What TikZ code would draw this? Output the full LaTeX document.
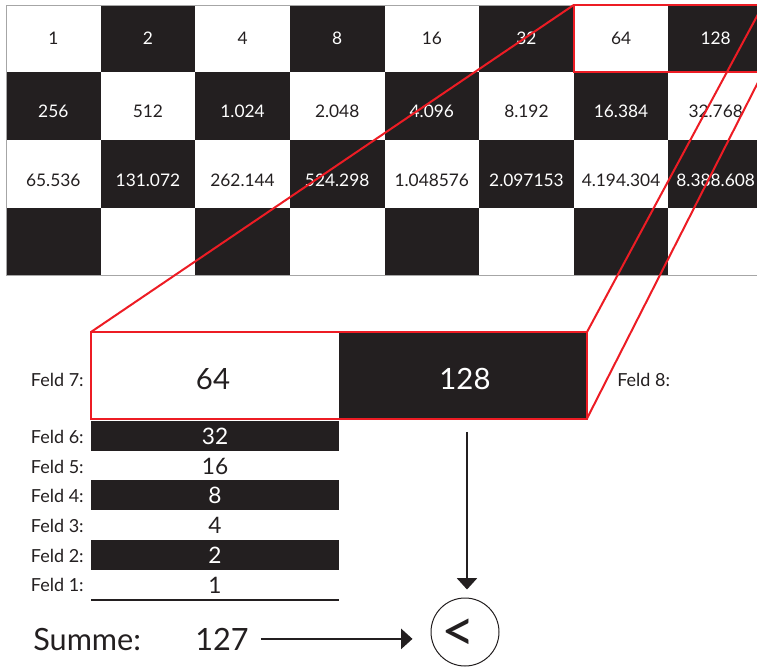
\documentclass[tikz,border=0pt]{standalone}
\usepackage{fontspec}
\setmainfont{Lato}
\usetikzlibrary{arrows.meta}
\definecolor{ink}{HTML}{231F20}
\definecolor{redline}{HTML}{ED1C24}
\newcommand\boardrow[3]{%
  \foreach \n [count=\c from 0] in {#3} {
    \pgfmathsetmacro\xl{6+\c*94.625}
    \pgfmathtruncatemacro\odd{mod(#1+\c,2)}
    \ifnum\odd=1 \def\cf{ink}\def\tf{white}\else\def\cf{white}\def\tf{ink}\fi
    \node[cellbox,fill=\cf] (c-#1-\c) at (\xl,{5+#1*67.5}) {};
    \node[numtext,text=\tf] (t-#1-\c) at (\xl+47.3,#2) {\n};
  }}
\begin{document}
\begin{tikzpicture}[x=0.75pt,y=-0.75pt,
  cellbox/.style={rectangle,inner sep=0pt,outer sep=0pt,minimum width=70.97pt,minimum height=50.625pt,anchor=north west},
  numtext/.style={inner sep=0pt,anchor=base,font=\fontsize{13}{15}\selectfont},
  bigbox/.style={rectangle,inner sep=0pt,outer sep=0pt,minimum width=186pt,minimum height=64.875pt,anchor=north west},
  bignum/.style={inner sep=0pt,anchor=base,font=\fontsize{22}{26}\selectfont},
  barbox/.style={rectangle,inner sep=0pt,outer sep=0pt,minimum width=186pt,minimum height=22.275pt,anchor=north west},
  barnum/.style={inner sep=0pt,anchor=base,font=\fontsize{17}{20}\selectfont},
  lbl/.style={inner sep=0pt,text=ink,font=\fontsize{13.5}{15}\selectfont},
  sumtext/.style={inner sep=0pt,text=ink,font=\fontsize{23}{27}\selectfont},
  redthick/.style={draw=redline,line width=1.5pt,line join=miter},
  arr/.style={draw=ink,line width=1.5pt,-{Triangle[width=15pt,length=8.5pt]}}
]
\useasboundingbox (0,0) rectangle (757,667);
\begin{scope}
\clip (0,0) rectangle (757,667);
% chessboard
\boardrow{0}{45}{1,2,4,8,16,32,64,128}
\boardrow{1}{117.3}{256,512,1.024,2.048,4.096,8.192,16.384,32.768}
\boardrow{2}{186.7}{65.536,131.072,262.144,524.298,1.048576,2.097153,4.194.304,8.388.608}
\foreach \c in {0,...,7} {
  \pgfmathsetmacro\xl{6+\c*94.625}
  \pgfmathtruncatemacro\odd{mod(3+\c,2)}
  \ifnum\odd=1 \def\cf{ink}\else\def\cf{white}\fi
  \node[cellbox,fill=\cf] (c-3-\c) at (\xl,207.5) {};
}
\draw[gray!70,line width=0.5pt] (c-0-0.north west) rectangle (c-3-7.south east);
% enlarged fields 7 and 8
\node[bigbox,fill=white] (b64) at (91,332) {};
\node[bigbox,fill=ink] (b128) at (339,332) {};
\node[bignum,text=ink] (n64) at (213,389) {64};
\node[bignum,text=white] (n128) at (465,389) {128};
\draw[redthick] (c-0-6.north west) rectangle (c-0-7.south east);
\draw[redthick] (b64.north west) rectangle (b128.south east);
\draw[redthick] (c-0-6.north west) -- (b64.north west);
\draw[redthick] (c-0-7.north east) -- (b128.north east);
\draw[redthick] (c-0-7.south east) -- (b128.south east);
\end{scope}
\node[lbl,anchor=base east] (l7) at (84,386) {Feld 7:};
\node[lbl,anchor=base west] (l8) at (617,386) {Feld 8:};
% fields 6 .. 1
\foreach \k/\v/\fc/\tc in {6/32/ink/white,5/16/white/ink,4/8/ink/white,3/4/white/ink,2/2/ink/white,1/1/white/ink} {
  \pgfmathsetmacro\yt{421+(6-\k)*29.7}
  \node[barbox,fill=\fc] (f\k) at (91,\yt) {};
  \node[barnum,text=\tc] (v\k) at (215,\yt+23.5) {\v};
  \node[lbl,anchor=base east] (l\k) at (84,\yt+22.3) {Feld \k:};
}
\draw[ink,line width=1.5pt] ([yshift=-0.4pt]f1.south west) -- ([yshift=-0.4pt]f1.south east);
% sum and comparison
\node[sumtext,anchor=base west] (sl) at (33,650) {Summe:};
\node[sumtext,anchor=base west] (n127) at (195,650) {127};
\node[circle,draw=ink,line width=0.75pt,minimum size=51pt,inner sep=0pt] (cmp) at (465,632) {};
\node[inner sep=0pt,text=ink,font=\fontsize{44}{48}\selectfont] (lt) at (459,635) {<};
\draw[arr,shorten <=9pt,shorten >=13.5pt] (n127.east) -- (n127.east -| cmp.west);
\draw[arr,shorten <=10pt,shorten >=6pt] ([xshift=1.5pt]b128.south -| cmp.north) -- ([xshift=1.5pt]cmp.north);
\end{tikzpicture}
\end{document}
